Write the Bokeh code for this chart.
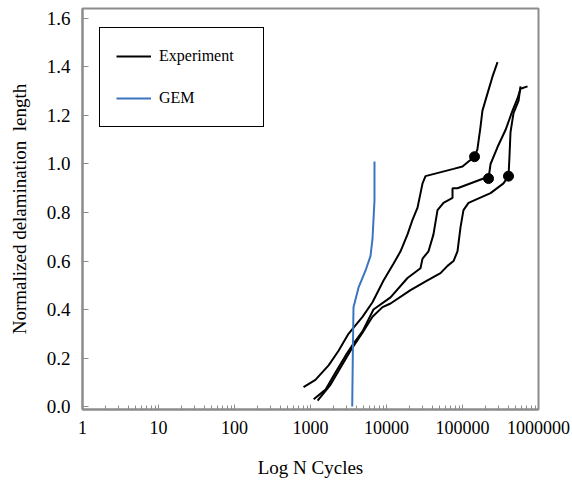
from bokeh.plotting import figure
from bokeh.models import FixedTicker, NumeralTickFormatter, Legend, LegendItem, Range1d
from bokeh.embed import file_html
from bokeh.resources import INLINE

# ---- data ----
exp_a_cycles = [810, 1160, 1730, 2340, 3160, 4830, 6540, 9140, 12400, 15300, 18900, 22000,
                25600, 29800, 32600, 76200, 100000, 120000, 144000, 157000, 172000, 183000,
                213000, 248000, 289000]
exp_a_length = [0.08, 0.11, 0.17, 0.23, 0.30, 0.37, 0.43, 0.52, 0.59, 0.64, 0.71, 0.77,
                 0.82, 0.92, 0.95, 0.98, 0.99, 1.01, 1.03, 1.06, 1.15, 1.22,
                 1.29, 1.36, 1.42]

exp_b_cycles = [1100, 1580, 2130, 2890, 3680, 4830, 6740, 11300, 18900, 28000, 29800, 35700,
                41500, 46900, 56200, 73900, 73900, 85900, 189000, 220000, 234000, 289000,
                368000, 455000, 529000, 580000, 717000]
exp_b_length = [0.03, 0.07, 0.14, 0.21, 0.26, 0.31, 0.40, 0.45, 0.53, 0.57, 0.61, 0.64,
                 0.71, 0.81, 0.84, 0.86, 0.90, 0.90, 0.94, 0.94, 1.00, 1.07,
                 1.14, 1.22, 1.27, 1.31, 1.32]

exp_c_cycles = [1240, 1830, 2480, 3360, 4830, 6540, 8860, 11300, 20700, 34600, 51400, 63500,
                76200, 85900, 94200, 103000, 120000, 234000, 346000, 403000, 415000, 428000,
                469000, 546000, 580000]
exp_c_length = [0.025, 0.09, 0.16, 0.23, 0.305, 0.37, 0.41, 0.425, 0.48, 0.52, 0.55, 0.58,
                 0.60, 0.64, 0.74, 0.81, 0.84, 0.88, 0.92, 0.95, 1.03, 1.13,
                 1.21, 1.26, 1.32]

dot_cycles = [144000, 220000, 403000]
dot_length = [1.03, 0.94, 0.95]

gem_cycles = [3540, 3600, 3680, 4280, 5290, 6150, 6540, 6950, 6950]
gem_length = [0.0, 0.2, 0.41, 0.49, 0.56, 0.62, 0.69, 0.85, 1.01]

x_ticks = [1, 10, 100, 1000, 10000, 100000, 1000000]
x_labels = ["1", "10", "100", "1000", "10000", "100000", "1000000"]
y_ticks = [0.0, 0.2, 0.4, 0.6, 0.8, 1.0, 1.2, 1.4, 1.6]

series_labels = ["Experiment", "GEM"]

# ---- figure ----
FONT = "Liberation Serif"
FRAME = "#8c8c8c"

p = figure(width=572, height=484, x_axis_type="log",
           x_range=Range1d(1, 1000000), y_range=Range1d(-0.012, 1.641),
           output_backend="svg", toolbar_location=None,
           min_border_left=82, min_border_right=34, min_border_top=8, min_border_bottom=75,
           background_fill_color="white", border_fill_color="white")

p.grid.visible = False
p.outline_line_color = FRAME
p.outline_line_width = 2

exp_r = p.multi_line(xs=[exp_a_cycles, exp_b_cycles, exp_c_cycles],
                     ys=[exp_a_length, exp_b_length, exp_c_length],
                     line_color="black", line_width=2)
p.scatter(dot_cycles, dot_length, size=10, color="black")
gem_r = p.line(gem_cycles, gem_length, line_color="#3a76c0", line_width=2)

# axes
p.xaxis.ticker = FixedTicker(ticks=x_ticks,
                             minor_ticks=[k * t for t in x_ticks[:-1] for k in range(2, 10)])
p.xaxis.major_label_overrides = {t: lab for t, lab in zip(x_ticks, x_labels)}
p.yaxis.ticker = FixedTicker(ticks=y_ticks)
p.yaxis.formatter = NumeralTickFormatter(format="0.0")

for ax in (p.xaxis[0], p.yaxis[0]):
    ax.axis_line_color = FRAME
    ax.axis_line_width = 2
    ax.major_tick_line_color = FRAME
    ax.minor_tick_line_color = FRAME
    ax.major_tick_out = 0
    ax.minor_tick_out = 0
    ax.major_label_text_font = FONT
    ax.major_label_text_color = "black"
    ax.axis_label_text_font = FONT
    ax.axis_label_text_font_style = "normal"
    ax.axis_label_text_color = "black"
    ax.axis_label_text_font_size = "19px"

p.xaxis.axis_label = "Log N Cycles"
p.xaxis.major_tick_in = 5
p.xaxis.minor_tick_in = 4
p.xaxis.major_label_text_font_size = "18px"
p.xaxis.major_label_standoff = 11
p.xaxis.axis_label_standoff = 20

p.yaxis.axis_label = "Normalized delamination\u00a0 length"
p.yaxis.major_tick_in = 6
p.yaxis.minor_tick_in = 0
p.yaxis.minor_tick_line_color = None
p.yaxis.major_label_text_font_size = "19px"
p.yaxis.major_label_standoff = 12
p.yaxis.axis_label_standoff = 14

legend = Legend(items=[LegendItem(label=series_labels[0], renderers=[exp_r]),
                       LegendItem(label=series_labels[1], renderers=[gem_r])],
                location=(17, 282))
legend.border_line_color = "black"
legend.border_line_width = 1
legend.border_line_alpha = 1
legend.background_fill_alpha = 1
legend.label_text_font = FONT
legend.label_text_font_size = "16px"
legend.label_text_color = "black"
legend.glyph_width = 35
legend.glyph_height = 24
legend.label_height = 24
legend.label_width = 88
legend.spacing = 18
legend.padding = 16
legend.label_standoff = 8
legend.margin = 0
p.add_layout(legend)

open("out.html", "w").write(file_html(p, INLINE))
